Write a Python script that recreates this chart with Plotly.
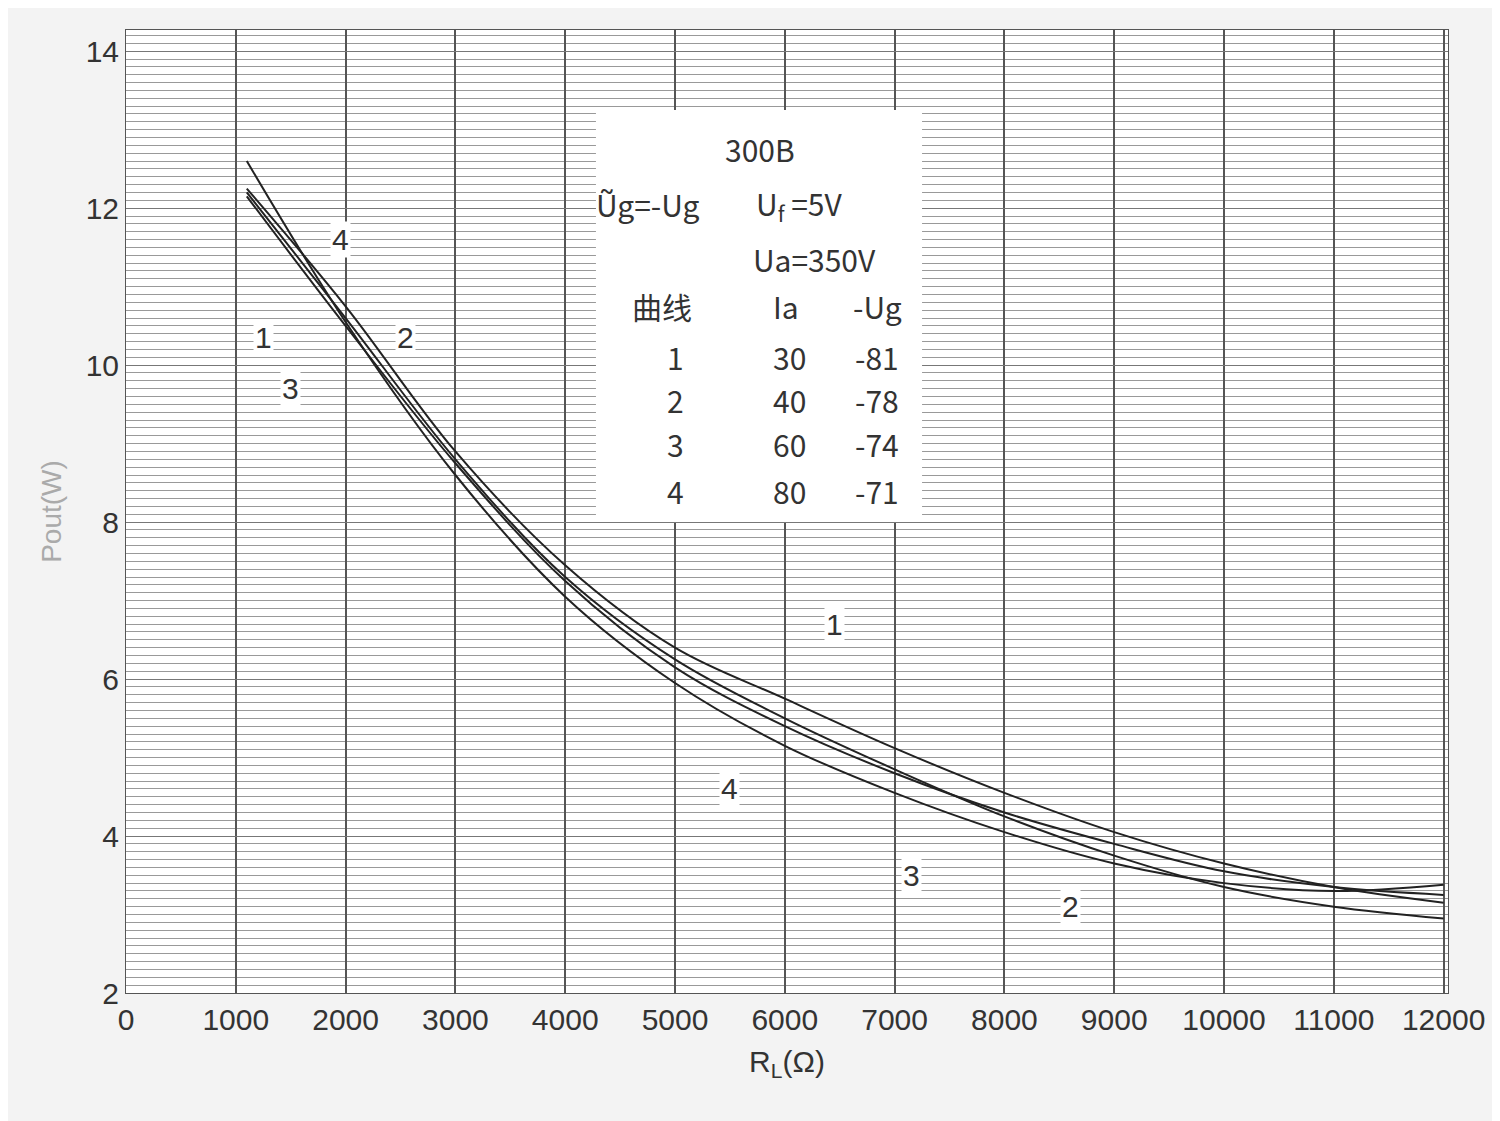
import plotly.graph_objects as go

rl = [1100, 2000, 3000, 4000, 5000, 6000, 7000, 8000, 9000, 10000, 11000, 12000]
curve1 = [12.25, 10.75, 8.9, 7.45, 6.4, 5.75, 5.12, 4.55, 4.05, 3.65, 3.35, 3.15]
curve2 = [12.2, 10.6, 8.8, 7.3, 6.25, 5.5, 4.85, 4.25, 3.75, 3.35, 3.1, 2.95]
curve3 = [12.15, 10.5, 8.75, 7.25, 6.15, 5.4, 4.8, 4.3, 3.9, 3.55, 3.35, 3.25]
curve4 = [12.6, 10.55, 8.6, 7.05, 5.95, 5.15, 4.55, 4.05, 3.65, 3.4, 3.3, 3.38]
x_ticks = list(range(0, 13000, 1000))
y_ticks = [2, 4, 6, 8, 10, 12, 14]

fig = go.Figure()
for ys in [curve1, curve2, curve3, curve4]:
    fig.add_trace(go.Scatter(x=rl, y=ys, mode='lines', line=dict(color='#222', width=2, shape='spline'),
                             showlegend=False, hoverinfo='skip'))

font = dict(family='Liberation Sans Narrow, Liberation Sans, sans-serif', size=30, color='#333')

# curve number labels
labels = [('4', 1950, 11.6), ('1', 1250, 10.35), ('2', 2550, 10.35), ('3', 1500, 9.7),
          ('1', 6450, 6.7), ('4', 5500, 4.6), ('3', 7150, 3.5), ('2', 8600, 3.1)]
for t, x, y in labels:
    fig.add_annotation(x=x, y=y, text=t, showarrow=False, font=font, bgcolor='white')

# info block
fig.add_shape(type='rect', x0=4280, x1=7250, y0=8.0, y1=13.25, fillcolor='white', line_width=0, layer='above')
info = [('300B', 5770, 12.75), ('Ũg=-Ug', 4750, 12.05), ('U<sub>f</sub> =5V', 6130, 12.05),
        ('Ua=350V', 6270, 11.35), ('曲线', 4880, 10.75), ('Ia', 6010, 10.75), ('-Ug', 6840, 10.75),
        ('1', 5000, 10.1), ('30', 6040, 10.1), ('-81', 6840, 10.1),
        ('2', 5000, 9.55), ('40', 6040, 9.55), ('-78', 6840, 9.55),
        ('3', 5000, 9.0), ('60', 6040, 9.0), ('-74', 6840, 9.0),
        ('4', 5000, 8.4), ('80', 6040, 8.4), ('-71', 6840, 8.4)]
for t, x, y in info:
    fig.add_annotation(x=x, y=y, text=t, showarrow=False,
                       font=dict(family='Liberation Sans Narrow, Noto Sans CJK SC, sans-serif', size=30, color='#333'))

fig.update_layout(
    width=1500, height=1121,
    margin=dict(l=118, r=60, t=22, b=136),
    paper_bgcolor='#f3f3f3', plot_bgcolor='white',
    font=font,
)
fig.update_xaxes(range=[0, 12040], tickvals=x_ticks, ticktext=[str(v) for v in x_ticks],
                 showgrid=True, gridcolor='#555', gridwidth=1.5, zeroline=False,
                 showline=True, linecolor='#555', mirror=True, ticks='',
                 title=dict(text='R<sub>L</sub>(Ω)', font=dict(size=30, color='#333')))
fig.update_yaxes(range=[2, 14.27], tickvals=y_ticks, showgrid=True, gridcolor='#777', gridwidth=1,
                 minor=dict(dtick=0.1, showgrid=True, gridcolor='#999', gridwidth=1),
                 zeroline=False, showline=True, linecolor='#555', mirror=True, ticks='',
                 title=dict(text='Pout(W)', font=dict(size=28, color='#aaa')))

fig.write_html("out.html")
